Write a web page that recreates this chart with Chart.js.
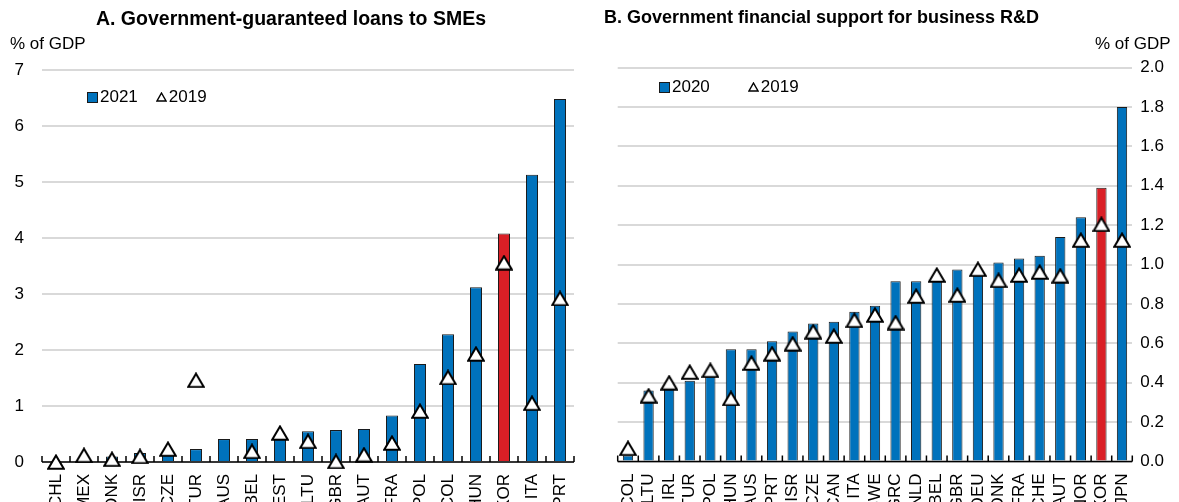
<!DOCTYPE html>
<html>
<head>
<meta charset="utf-8">
<script src="https://cdn.jsdelivr.net/npm/chart.js@4/dist/chart.umd.min.js"></script>
<style>
  html, body { margin: 0; padding: 0; background: #fff; }
  body { width: 1179px; height: 502px; position: relative; overflow: hidden;
         font-family: "Liberation Sans", Arial, sans-serif; color: #000; }
  .panel { position: absolute; top: 0; height: 502px; }
  .title { position: absolute; font-weight: bold; font-size: 18px; white-space: nowrap; }
  .unit { position: absolute; font-size: 17px; white-space: nowrap; }
  .legend { position: absolute; font-size: 17px; white-space: nowrap; display: flex; align-items: center; }
  .sw { display: inline-block; width: 9px; height: 9px; background: #0072BC; border: 1px solid #1a1a1a; margin-right: 2px; }
  .tri { display: inline-block; margin-right: 2px; }
</style>
</head>
<body>
<div class="panel" style="left:0;width:590px"><canvas id="loans" width="590" height="502"></canvas></div>
<div class="panel" style="left:590px;width:589px"><canvas id="rd" width="589" height="502"></canvas></div>

<div class="title" style="left:0;width:582px;text-align:center;top:7px;font-size:19.5px">A. Government-guaranteed loans to SMEs</div>
<div class="unit" style="left:10px;top:34px">% of GDP</div>
<div class="legend" style="left:87px;top:87px">
  <span class="sw"></span>2021
  <svg class="tri" style="margin-left:18px" width="11" height="10" viewBox="0 0 11 10"><polygon points="5.5,1 10,9 1,9" fill="#fff" stroke="#000" stroke-width="1.4"/></svg>2019
</div>

<div class="title" style="left:604px;top:7px">B. Government financial support for business R&amp;D</div>
<div class="unit" style="left:1095px;top:34px">% of GDP</div>
<div class="legend" style="left:659px;top:77px">
  <span class="sw"></span>2020
  <svg class="tri" style="margin-left:38px" width="11" height="10" viewBox="0 0 11 10"><polygon points="5.5,1 10,9 1,9" fill="#fff" stroke="#000" stroke-width="1.4"/></svg>2019
</div>

<script>
// Panel A: government-guaranteed loans to SMEs, % of GDP
const loanCountries = ['CHL','MEX','DNK','ISR','CZE','TUR','AUS','BEL','EST','LTU','GBR','AUT','FRA','POL','COL','HUN','KOR','ITA','PRT'];
const loans2021 = [null, null, 0.10, 0.16, 0.14, 0.23, 0.41, 0.41, 0.41, 0.55, 0.57, 0.59, 0.83, 1.75, 2.28, 3.12, 4.08, 5.13, 6.48];
const loans2019 = [0.00, 0.12, 0.05, 0.10, 0.23, 1.46, null, 0.19, 0.52, 0.37, 0.01, 0.13, 0.34, 0.91, 1.51, 1.93, 3.56, 1.05, 2.92];
const loanTicks = [0, 1, 2, 3, 4, 5, 6, 7];

// Panel B: government financial support for business R&D, % of GDP
const rdCountries = ['COL','LTU','IRL','TUR','POL','HUN','AUS','PRT','ISR','CZE','CAN','ITA','SWE','GRC','NLD','BEL','GBR','DEU','DNK','FRA','CHE','AUT','NOR','KOR','JPN'];
const rd2020 = [0.03, 0.36, 0.37, 0.41, 0.43, 0.57, 0.57, 0.61, 0.66, 0.70, 0.71, 0.76, 0.79, 0.915, 0.915, 0.94, 0.975, 0.97, 1.01, 1.03, 1.045, 1.14, 1.24, 1.39, 1.80];
const rd2019 = [0.067, 0.334, 0.40, 0.454, 0.463, 0.32, 0.50, 0.547, 0.598, 0.659, 0.637, 0.717, 0.744, 0.705, 0.84, 0.947, 0.845, 0.976, 0.92, 0.947, 0.962, 0.943, 1.124, 1.204, 1.124];
const rdTicks = [0, 0.2, 0.4, 0.6, 0.8, 1.0, 1.2, 1.4, 1.6, 1.8, 2.0];

const BLUE = '#0072BC';
const RED = '#DA1F26';
const FONT = { family: '"Liberation Sans", Arial, sans-serif', size: 17 };

// White triangle marker, centred on its bounding box
function makeTriangle(w, h, lw) {
  const c = document.createElement('canvas');
  c.width = w; c.height = h;
  const g = c.getContext('2d');
  g.beginPath();
  g.moveTo(w / 2, lw * 0.75);
  g.lineTo(w - lw * 0.6, h - lw * 0.6);
  g.lineTo(lw * 0.6, h - lw * 0.6);
  g.closePath();
  g.fillStyle = '#fff'; g.fill();
  g.lineWidth = lw; g.strokeStyle = '#000'; g.lineJoin = 'miter'; g.stroke();
  return c;
}
const triangle = makeTriangle(18, 16, 2);

// Category axis line with inward ticks between categories
const axisTicks = {
  id: 'axisTicks',
  afterDatasetDraw(chart, args) {
    if (args.meta.type !== 'bar') return;
    const xs = chart.scales.x, ctx = chart.ctx, y0 = chart.chartArea.bottom;
    const n = chart.data.labels.length;
    ctx.save();
    ctx.strokeStyle = '#000'; ctx.lineWidth = 1.5;
    ctx.beginPath();
    ctx.moveTo(xs.left, y0); ctx.lineTo(xs.right, y0);
    for (let i = 0; i <= n; i++) {
      const px = i === 0 ? xs.left : i === n ? xs.right
        : (xs.getPixelForValue(i - 1) + xs.getPixelForValue(i)) / 2;
      ctx.moveTo(px, y0); ctx.lineTo(px, y0 - 6);
    }
    ctx.stroke();
    ctx.restore();
  }
};

function build(id, labels, bars, marks, ticks, opts) {
  const maxTick = ticks[ticks.length - 1];
  const step = ticks[1] - ticks[0];
  return new Chart(document.getElementById(id), {
    type: 'bar',
    data: {
      labels: labels,
      datasets: [
        {
          type: 'line', data: marks, showLine: false, order: 0, clip: false,
          pointStyle: triangle, pointRadius: 9, pointHoverRadius: 9
        },
        {
          type: 'bar', data: bars, order: 1,
          backgroundColor: labels.map(c => c === 'KOR' ? RED : BLUE),
          borderColor: '#1a1a1a', borderWidth: 1, borderSkipped: 'bottom',
          barPercentage: 1, categoryPercentage: opts.barFrac
        }
      ]
    },
    options: {
      responsive: false, animation: false, devicePixelRatio: 1,
      layout: { padding: opts.padding },
      plugins: { legend: { display: false }, tooltip: { enabled: false }, title: { display: false } },
      scales: {
        x: {
          grid: { display: false }, border: { display: false },
          ticks: { autoSkip: false, minRotation: 90, maxRotation: 90, padding: 4, color: '#000', font: FONT },
          afterFit: s => { s.height = opts.xHeight; }
        },
        y: {
          position: opts.yPos, min: 0, max: maxTick,
          grid: { color: '#D9D9D9', lineWidth: 2, drawTicks: false },
          border: { display: false },
          ticks: {
            stepSize: step, padding: opts.yPad, color: '#000', font: FONT,
            callback: v => opts.decimals ? Number(v).toFixed(opts.decimals) : String(Math.round(v))
          },
          afterFit: s => { s.width = opts.yWidth; }
        }
      }
    },
    plugins: [axisTicks]
  });
}

build('loans', loanCountries, loans2021, loans2019, loanTicks, {
  barFrac: 0.43, padding: { top: 70, left: 0, right: 16, bottom: 0 },
  xHeight: 40, yPos: 'left', yWidth: 42, yPad: 18, decimals: 0
});

build('rd', rdCountries, rd2020, rd2019, rdTicks, {
  barFrac: 0.5, padding: { top: 67.5, left: 27.7, right: 0, bottom: 0 },
  xHeight: 40.5, yPos: 'right', yWidth: 46.7, yPad: 8, decimals: 1
});
</script>
</body>
</html>
